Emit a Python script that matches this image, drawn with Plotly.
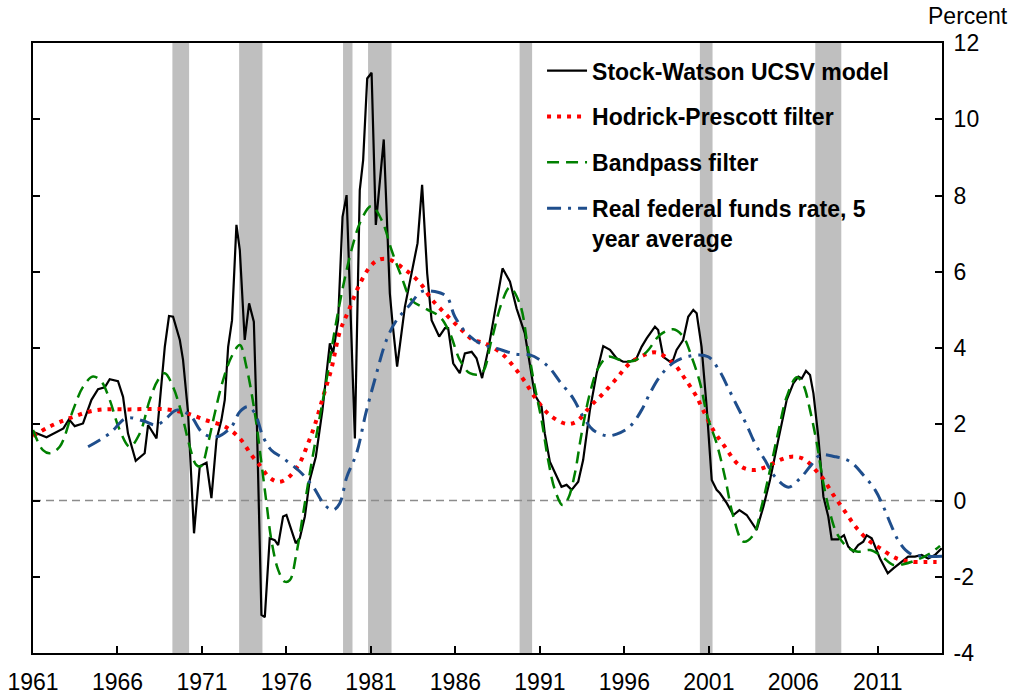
import plotly.graph_objects as go

# ---------------- data ----------------
ucsv_x = [1961.0, 1961.8, 1962.8, 1963.13, 1963.47, 1963.96, 1964.46, 1964.85, 1965.25, 1965.54,
          1966.03, 1966.33, 1966.62, 1967.08, 1967.61, 1967.81, 1968.31, 1968.6, 1968.8, 1969.05,
          1969.29, 1969.69, 1969.88, 1970.18, 1970.53, 1970.87, 1971.27, 1971.56, 1971.86, 1972.15,
          1972.35, 1972.55, 1972.78, 1973.04, 1973.24, 1973.53, 1973.79, 1974.07, 1974.26, 1974.52,
          1974.72, 1975.01, 1975.31, 1975.51, 1975.8, 1976.0, 1976.55, 1976.79, 1977.09, 1977.38,
          1977.74, 1978.13, 1978.57, 1978.76, 1979.06, 1979.32, 1979.56, 1980.05, 1980.34, 1980.54,
          1980.78, 1981.04, 1981.29, 1981.76, 1982.12, 1982.28, 1982.55, 1983.01, 1983.4, 1983.76,
          1984.03, 1984.33, 1984.59, 1985.04, 1985.38, 1985.57, 1985.87, 1986.26, 1986.56, 1986.96,
          1987.25, 1987.58, 1987.94, 1988.34, 1988.79, 1989.23, 1989.62, 1990.11, 1990.41, 1990.7,
          1991.1, 1991.29, 1991.59, 1991.99, 1992.28, 1992.58, 1992.88, 1993.27, 1993.56, 1993.96,
          1994.36, 1994.75, 1995.15, 1995.54, 1995.93, 1996.33, 1996.72, 1997.02, 1997.32, 1997.81,
          1998.0, 1998.3, 1998.7, 1998.89, 1999.09, 1999.48, 1999.78, 2000.08, 2000.28, 2000.57,
          2000.87, 2001.17, 2001.46, 2001.66, 2002.06, 2002.45, 2002.81, 2003.24, 2003.83, 2004.23,
          2004.62, 2005.11, 2005.61, 2006.0, 2006.3, 2006.5, 2006.75, 2006.99, 2007.19, 2007.48,
          2007.78, 2008.07, 2008.27, 2008.66, 2009.0, 2009.25, 2009.55, 2009.84, 2010.14, 2010.34,
          2010.64, 2011.13, 2011.59, 2011.92, 2012.31, 2012.8, 2013.2, 2013.59, 2013.98, 2014.38,
          2014.78]
ucsv_y = [1.80, 1.66, 1.89, 2.13, 1.95, 2.02, 2.64, 2.92, 2.97, 3.18,
          3.13, 2.72, 1.76, 1.04, 1.24, 1.98, 1.63, 3.16, 4.03, 4.84,
          4.82, 4.21, 3.69, 2.29, -0.86, 0.90, 0.99, 0.06, 1.59, 2.11,
          2.64, 4.03, 4.73, 7.23, 6.57, 4.21, 5.17, 4.69, 1.85, -3.00,
          -3.06, -0.99, -1.04, -1.17, -0.42, -0.38, -1.12, -0.99, -0.42, 0.54,
          1.15, 2.37, 4.12, 3.86, 4.73, 7.44, 8.01, 1.63, 8.14, 8.93,
          11.07, 11.22, 7.23, 9.47, 5.43, 4.65, 3.51, 5.08, 5.96, 6.75,
          8.28, 5.96, 4.73, 4.30, 4.52, 4.52, 3.60, 3.34, 3.86, 3.90,
          3.73, 3.21, 3.95, 4.91, 6.09, 5.74, 5.04, 4.38, 3.51, 2.77,
          2.46, 1.76, 1.02, 0.62, 0.36, 0.41, 0.28, 0.49, 1.06, 2.37,
          3.34, 4.05, 3.95, 3.73, 3.64, 3.64, 3.73, 4.03, 4.25, 4.56,
          4.47, 3.77, 3.64, 3.69, 3.95, 4.21, 4.82, 5.00, 4.91, 4.03,
          2.46, 0.54, 0.28, 0.19, -0.07, -0.38, -0.25, -0.38, -0.77, -0.16,
          0.54, 1.59, 2.64, 3.07, 3.25, 3.20, 3.40, 3.29, 2.81, 1.67,
          0.10, -0.42, -1.02, -1.02, -0.91, -1.21, -1.34, -1.17, -1.08, -0.91,
          -0.99, -1.52, -1.91, -1.78, -1.65, -1.47, -1.47, -1.43, -1.52, -1.43,
          -1.25]

hp_x = [1961.0, 1961.99, 1963.17, 1964.75, 1966.73, 1968.9, 1970.08, 1971.2, 1972.35, 1973.24,
        1973.93, 1974.32, 1975.01, 1975.55, 1976.1, 1976.79, 1977.28, 1977.68, 1978.17, 1978.67,
        1979.16, 1979.65, 1980.34, 1980.93, 1981.43, 1982.02, 1983.01, 1983.9, 1984.59, 1985.38,
        1986.26, 1987.05, 1987.64, 1988.73, 1989.47, 1990.11, 1990.81, 1991.59, 1992.58, 1993.17,
        1993.96, 1994.75, 1995.54, 1996.33, 1997.32, 1997.91, 1998.89, 1999.58, 2000.28, 2000.47,
        2001.26, 2001.95, 2002.64, 2003.13, 2003.72, 2004.32, 2005.3, 2005.9, 2006.5, 2006.99,
        2007.39, 2007.78, 2008.38, 2009.06, 2009.76, 2010.55, 2011.13, 2012.12, 2013.1, 2013.89,
        2014.48]
hp_y = [1.69, 1.94, 2.16, 2.37, 2.39, 2.39, 2.29, 2.11, 1.94, 1.63,
        1.19, 0.98, 0.60, 0.49, 0.60, 0.99, 1.50, 1.98, 2.72, 3.47,
        4.43, 4.95, 5.68, 6.12, 6.31, 6.33, 6.06, 5.71, 5.28, 4.91,
        4.52, 4.21, 4.14, 3.86, 3.50, 3.12, 2.64, 2.24, 2.01, 2.07,
        2.46, 2.81, 3.20, 3.60, 3.84, 3.88, 3.60, 3.20, 2.72, 2.55,
        1.85, 1.41, 0.99, 0.84, 0.80, 0.87, 1.08, 1.15, 1.11, 0.96,
        0.76, 0.56, 0.14, -0.29, -0.73, -1.08, -1.25, -1.52, -1.61, -1.61,
        -1.61]

bp_x = [1961.0, 1961.59, 1961.99, 1962.58, 1963.37, 1963.96, 1964.55, 1965.05, 1965.54, 1966.13,
        1966.73, 1967.32, 1967.91, 1968.4, 1968.8, 1969.29, 1969.79, 1970.28, 1970.67, 1970.95,
        1971.36, 1971.76, 1972.25, 1972.75, 1973.24, 1973.63, 1974.13, 1974.52, 1974.82, 1975.11,
        1975.51, 1975.9, 1976.2, 1976.59, 1976.99, 1977.38, 1977.87, 1978.37, 1978.86, 1979.35,
        1979.85, 1980.34, 1980.93, 1981.13, 1981.72, 1982.22, 1982.81, 1983.4, 1984.29, 1985.08,
        1985.67, 1986.26, 1986.85, 1987.55, 1988.14, 1988.73, 1989.22, 1989.82, 1990.31, 1990.7,
        1991.1, 1991.49, 1991.89, 1992.34, 1992.68, 1993.07, 1993.47, 1993.96, 1994.45, 1995.04,
        1995.73, 1996.52, 1997.32, 1998.1, 1998.89, 1999.48, 1999.98, 2000.47, 2000.92, 2001.46,
        2001.95, 2002.45, 2003.04, 2003.63, 2004.12, 2004.62, 2005.11, 2005.61, 2006.2, 2006.59,
        2006.99, 2007.39, 2007.78, 2008.18, 2008.57, 2009.16, 2009.76, 2010.55, 2011.24, 2011.92,
        2012.51, 2013.3, 2014.09, 2014.68]
bp_y = [1.85, 1.32, 1.24, 1.41, 2.37, 2.98, 3.25, 3.12, 2.64, 1.85,
        1.41, 1.76, 2.64, 3.16, 3.34, 2.98, 2.29, 1.41, 0.93, 0.90,
        1.50, 2.29, 3.16, 3.77, 4.08, 3.51, 2.29, 0.98, -0.07, -1.04,
        -1.82, -2.13, -2.09, -1.39, -0.34, 0.71, 1.94, 3.16, 4.47, 5.61,
        6.57, 7.27, 7.71, 7.71, 7.27, 6.57, 5.87, 5.26, 5.02, 4.82,
        4.39, 3.69, 3.34, 3.34, 4.21, 5.17, 5.59, 5.15, 3.95, 2.98,
        2.11, 1.06, 0.28, -0.12, 0.06, 0.71, 1.76, 2.81, 3.47, 3.77,
        3.69, 3.66, 3.90, 4.34, 4.49, 4.30, 3.77, 3.10, 2.20, 1.50,
        0.62, -0.42, -1.08, -0.91, -0.16, 0.80, 1.80, 2.72, 3.23, 3.03,
        2.37, 1.50, 0.45, -0.34, -0.86, -1.21, -1.34, -1.30, -1.47, -1.69,
        -1.67, -1.56, -1.39, -1.19]

ffr_x = [1964.26, 1965.54, 1966.53, 1967.51, 1968.31, 1968.9, 1969.49, 1970.28, 1971.07, 1971.86,
         1972.75, 1973.24, 1973.73, 1974.13, 1974.62, 1975.11, 1975.8, 1976.79, 1977.58, 1978.27,
         1978.76, 1979.16, 1979.56, 1980.15, 1980.7, 1981.25, 1981.92, 1982.52, 1983.3, 1984.0,
         1984.78, 1985.48, 1985.97, 1986.66, 1987.45, 1988.44, 1989.57, 1990.41, 1991.0, 1991.59,
         1992.18, 1992.97, 1993.56, 1994.15, 1994.95, 1995.54, 1996.33, 1997.02, 1997.51, 1998.1,
         1998.89, 1999.88, 2000.96, 2001.6, 2002.2, 2002.74, 2003.24, 2003.73, 2004.32, 2004.92,
         2005.71, 2006.4, 2006.99, 2007.58, 2008.47, 2009.36, 2010.14, 2010.84, 2011.33, 2011.83,
         2012.31, 2012.9, 2013.69, 2014.8]
ffr_y = [1.41, 1.76, 2.16, 2.09, 1.98, 2.16, 2.37, 2.24, 1.76, 1.67,
         1.94, 2.33, 2.46, 2.29, 1.67, 1.32, 1.11, 0.76, 0.36, -0.12,
         -0.25, -0.07, 0.60, 1.24, 2.29, 3.20, 4.21, 4.73, 5.13, 5.48,
         5.48, 5.35, 4.82, 4.39, 4.12, 3.99, 3.84, 3.82, 3.69, 3.47,
         3.12, 2.68, 2.20, 1.85, 1.70, 1.74, 1.94, 2.37, 2.81, 3.25,
         3.61, 3.79, 3.77, 3.42, 2.90, 2.42, 1.98, 1.50, 1.06, 0.62,
         0.35, 0.58, 0.89, 1.19, 1.15, 1.02, 0.67, 0.28, -0.16, -0.69,
         -1.12, -1.39, -1.46, -1.46]

# recession shading as it appears on the chart's time axis: (start, end)
recession_start = [1969.25, 1973.2, 1979.35, 1980.83, 1989.8, 2000.47, 2007.3]
recession_end = [1970.24, 1974.58, 1979.91, 1982.22, 1990.54, 2001.22, 2008.84]

x_ticks = [1961, 1966, 1971, 1976, 1981, 1986, 1991, 1996, 2001, 2006, 2011]
y_ticks = [-4, -2, 0, 2, 4, 6, 8, 10, 12]
y_tick_labels = ["-4", "-2", "0", "2", "4", "6", "8", "10", "12"]

names = ["Stock-Watson UCSV model", "Hodrick-Prescott filter", "Bandpass filter",
         "Real federal funds rate, 5<br>year average"]

# ---------------- figure ----------------
FONT = "Arial, Liberation Sans, sans-serif"
FS = 23
fig = go.Figure()

fig.add_trace(go.Scatter(x=ucsv_x, y=ucsv_y, mode="lines", name=names[0], legendgroup="a",
                         line=dict(color="black", width=2.2)))
fig.add_trace(go.Scatter(x=hp_x, y=hp_y, mode="lines", name=names[1], legendgroup="b",
                         line=dict(color="#FF0000", width=4, dash="4px,6px", shape="spline")))
fig.add_trace(go.Scatter(x=bp_x, y=bp_y, mode="lines", name=names[2], legendgroup="c",
                         line=dict(color="#008000", width=2.5, dash="12px,7px", shape="spline")))
fig.add_trace(go.Scatter(x=ffr_x, y=ffr_y, mode="lines", name=names[3], legendgroup="d",
                         line=dict(color="#1F4E8C", width=3, dash="14px,7px,3px,7px", shape="spline")))

shapes = []
for s, e in zip(recession_start, recession_end):
    shapes.append(dict(type="rect", xref="x", yref="paper", x0=s, x1=e, y0=0, y1=1,
                       fillcolor="#BFBFBF", line=dict(width=0), layer="below"))
shapes.append(dict(type="line", xref="paper", yref="y", x0=0, x1=1, y0=0, y1=0,
                   line=dict(color="#8C8C8C", width=1.6, dash="8px,5px"), layer="below"))

fig.update_layout(
    template="none",
    width=1013, height=700,
    margin=dict(l=33, r=71, t=43, b=47, pad=0),
    paper_bgcolor="white", plot_bgcolor="white",
    font=dict(family=FONT, size=FS, color="black"),
    showlegend=True,
    hovermode=False,
    legend=dict(x=0.56, y=0.99, xanchor="left", yanchor="top",
                bgcolor="rgba(0,0,0,0)", borderwidth=0,
                font=dict(family=FONT, size=FS, color="black", weight="bold"),
                traceorder="grouped", tracegroupgap=13, valign="top", itemwidth=40),
    shapes=shapes,
    annotations=[dict(text="Percent", xref="paper", yref="paper", x=1.0286, y=1.0443,
                      xanchor="center", yanchor="middle", showarrow=False,
                      font=dict(family=FONT, size=FS, color="black"))],
    xaxis=dict(range=[1961, 2014.8], tickmode="array", tickvals=x_ticks,
               ticktext=[str(t) for t in x_ticks], automargin=False,
               showgrid=False, zeroline=False, showline=True, linecolor="black", linewidth=2,
               mirror=True, ticks="inside", ticklen=7, tickwidth=2, tickcolor="black",
               ticklabelstandoff=7),
    yaxis=dict(range=[-4, 12], tickmode="array", tickvals=y_ticks, ticktext=y_tick_labels,
               side="right", automargin=False,
               showgrid=False, zeroline=False, showline=True, linecolor="black", linewidth=2,
               mirror="ticks", ticks="inside", ticklen=7, tickwidth=2, tickcolor="black",
               ticklabelstandoff=5),
)

fig.write_html("out.html", config={"displayModeBar": False},
               post_script="document.body.style.margin='0';")
